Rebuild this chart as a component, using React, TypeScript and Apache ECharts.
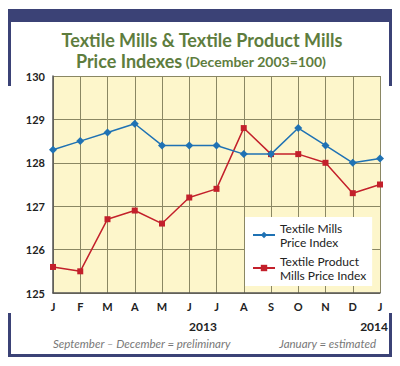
import React, { useEffect, useRef } from "react";
import * as echarts from "echarts";

const months = ["J", "F", "M", "A", "M", "J", "J", "A", "S", "O", "N", "D", "J"];
const textileMills = [128.3, 128.5, 128.7, 128.9, 128.4, 128.4, 128.4, 128.2, 128.2, 128.8, 128.4, 128.0, 128.1];
const textileProductMills = [125.6, 125.5, 126.7, 126.9, 126.6, 127.2, 127.4, 128.8, 128.2, 128.2, 128.0, 127.3, 127.5];
const seriesNames = ["Textile Mills\nPrice Index", "Textile Product\nMills Price Index"];
const yearLabels = ["2013", "2014"];

const NAVY = "#3b4276";
const GREEN = "#5e7d3e";
const FONT = "Lato, 'Open Sans', sans-serif";

export default function App() {
  const ref = useRef<HTMLDivElement>(null);
  useEffect(() => {
    if (!ref.current) return;
    const chart = echarts.init(ref.current, undefined, { renderer: "svg" });
    chart.setOption({
      animation: false,
      backgroundColor: "#ffffff",
      textStyle: { fontFamily: FONT },
      grid: {
        left: 53,
        top: 76,
        right: 20,
        bottom: 73,
        show: true,
        backgroundColor: "#fdf6cb",
        borderWidth: 0,
      },
      legend: {
        left: 245,
        top: 217,
        width: 122,
        orient: "vertical",
        backgroundColor: "#ffffff",
        padding: [4, 6, 4, 7],
        itemGap: 5,
        itemWidth: 22,
        itemHeight: 8,
        textStyle: { fontFamily: FONT, fontSize: 12, color: "#222", lineHeight: 14 },
        data: seriesNames,
      },
      xAxis: {
        type: "category",
        data: months,
        boundaryGap: false,
        axisLine: { show: true, lineStyle: { color: "#555", width: 1.5 } },
        axisTick: { show: false },
        splitLine: { show: true, lineStyle: { color: "#8a8763", width: 1 } },
        axisLabel: { color: "#222", fontWeight: "bold", fontSize: 11, fontFamily: FONT, margin: 8 },
      },
      yAxis: {
        type: "value",
        min: 125,
        max: 130,
        interval: 1,
        axisLine: { show: true, lineStyle: { color: "#555", width: 1.5 } },
        axisTick: { show: false },
        splitLine: { show: true, lineStyle: { color: "#8a8763", width: 1 } },
        axisLabel: { color: "#222", fontWeight: "bold", fontSize: 11, fontFamily: FONT, margin: 8 },
      },
      series: [
        {
          name: seriesNames[0],
          type: "line",
          data: textileMills,
          symbol: "diamond",
          symbolSize: 8,
          lineStyle: { color: "#1f72b4", width: 1.5 },
          itemStyle: { color: "#1f72b4" },
          z: 3,
        },
        {
          name: seriesNames[1],
          type: "line",
          data: textileProductMills,
          symbol: "rect",
          symbolSize: 6,
          lineStyle: { color: "#c3202b", width: 1.5 },
          itemStyle: { color: "#c3202b" },
          z: 2,
        },
      ],
      graphic: [
        { type: "rect", shape: { x: 8, y: 9, width: 384, height: 13 }, style: { fill: NAVY } },
        { type: "rect", shape: { x: 8, y: 9, width: 3, height: 77 }, style: { fill: NAVY } },
        { type: "rect", shape: { x: 389, y: 9, width: 3, height: 77 }, style: { fill: NAVY } },
        { type: "rect", shape: { x: 8, y: 313, width: 3, height: 44 }, style: { fill: NAVY } },
        { type: "rect", shape: { x: 389, y: 313, width: 3, height: 44 }, style: { fill: NAVY } },
        { type: "rect", shape: { x: 8, y: 354, width: 384, height: 3 }, style: { fill: NAVY } },
        {
          type: "text",
          x: 202,
          y: 40,
          style: {
            text: "Textile Mills & Textile Product Mills",
            fill: GREEN,
            font: "bold 18px " + FONT,
            align: "center",
            verticalAlign: "middle",
          },
        },
        {
          type: "text",
          x: 201,
          y: 61,
          style: {
            text: "{a|Price Indexes} {b|(December 2003=100)}",
            fill: GREEN,
            align: "center",
            verticalAlign: "middle",
            rich: {
              a: { font: "bold 18px " + FONT, fill: GREEN },
              b: { font: "bold 14px " + FONT, fill: GREEN },
            },
          },
        },
        {
          type: "text",
          x: 203,
          y: 326,
          style: { text: yearLabels[0], fill: "#222", font: "bold 12px " + FONT, align: "center", verticalAlign: "middle" },
        },
        {
          type: "text",
          x: 388,
          y: 326,
          style: { text: yearLabels[1], fill: "#222", font: "bold 12px " + FONT, align: "right", verticalAlign: "middle" },
        },
        {
          type: "text",
          x: 53,
          y: 343,
          style: { text: "September – December = preliminary", fill: "#777", font: "italic 11.5px " + FONT, align: "left", verticalAlign: "middle" },
        },
        {
          type: "text",
          x: 376,
          y: 343,
          style: { text: "January = estimated", fill: "#777", font: "italic 11.5px " + FONT, align: "right", verticalAlign: "middle" },
        },
      ],
    });
    return () => chart.dispose();
  }, []);
  return <div ref={ref} style={{ width: 400, height: 366, position: "absolute", left: 0, top: 0 }} />;
}
